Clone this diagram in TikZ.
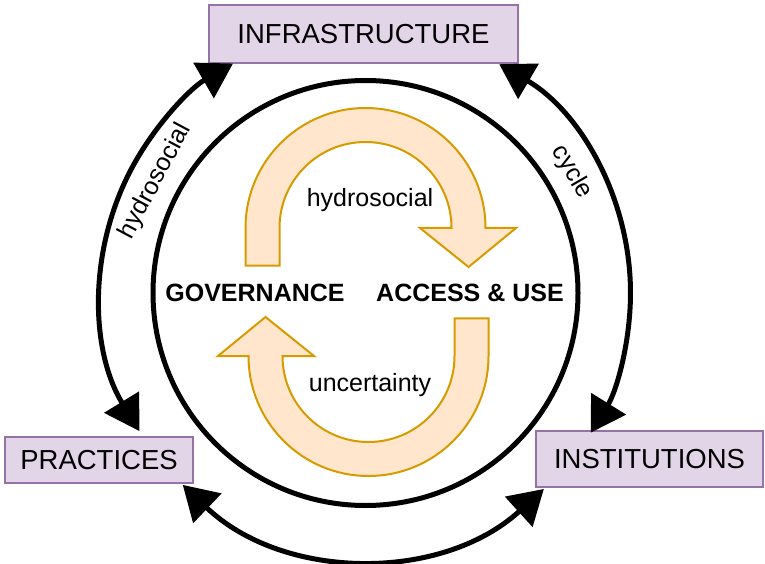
\documentclass[tikz,border=0pt]{standalone}
\usepackage{fontspec}
\setmainfont{Liberation Sans}
\usetikzlibrary{arrows.meta,calc}
\definecolor{orstroke}{HTML}{D79B00}
\definecolor{orfill}{HTML}{FFE6CC}
\definecolor{pstroke}{HTML}{9673A6}
\definecolor{pfill}{HTML}{E1D5E7}
\begin{document}
\begin{tikzpicture}[x=1pt,y=1pt,
  box/.style={draw=pstroke, fill=pfill, line width=2pt, inner sep=0pt,
    font=\fontsize{27.5}{30}\selectfont},
  ring/.style={line width=5pt},
  cyc/.style={line width=5pt,
    {Triangle[length=34pt,width=40pt]}-{Triangle[length=34pt,width=40pt]}},
  bigarrow/.style={draw=orstroke, fill=orfill, line width=2pt, line join=miter},
  boldlbl/.style={font=\bfseries\fontsize{25}{28}\selectfont},
  lbl/.style={font=\fontsize{25}{28}\selectfont}]
\useasboundingbox (0,0) rectangle (765,563);
\coordinate (C) at (365.5,270);

% boxes
\node[box, minimum width=309pt, minimum height=58pt] (infra) at (363.5,529) {INFRASTRUCTURE};
\node[box, minimum width=188pt, minimum height=46pt] (prac) at (99,103) {PRACTICES};
\node[box, minimum width=227pt, minimum height=56pt] (inst) at (649.5,104) {INSTITUTIONS};

% inner ring
\draw[ring] (C) circle[radius=212.5];

% outer arcs
\coordinate (a1s) at ([shift={(211.4:265)}]C);
\coordinate (a2s) at ([shift={(59.7:265)}]C);
\coordinate (a3s) at ([shift={(226.4:265)}]C);
\draw[cyc] (a1s) arc[start angle=211.4, end angle=120, radius=265];
\draw[cyc] (a2s) arc[start angle=59.7, end angle=-31.8, radius=265];
\draw[cyc] (a3s) arc[start angle=226.4, end angle=312.3, radius=265];

% outer labels
\node[lbl, rotate=62] (lh) at ([shift={(152:238)}]C) {hydrosocial};
\node[lbl, rotate=-60] (lc) at ([shift={(30.4:239)}]C) {cycle};

% big orange arrows
\def\orarrow{%
  (245.5,297.3) -- (245.5,335) arc[start angle=180, end angle=0, radius=120]
  -- (516,335) -- (468.5,296) -- (420,335) -- (451.5,335)
  arc[start angle=0, end angle=180, radius=86] -- (279.5,297.3) -- cycle}
\path[bigarrow] \orarrow;
\begin{scope}[rotate around={180:(367,271)}]
\path[bigarrow] \orarrow;
\end{scope}

% inner labels
\node[boldlbl] (gov) at (255,270) {GOVERNANCE};
\node[boldlbl] (acc) at (470,270) {ACCESS \& USE};
\node[lbl] (hyd) at (370,363) {hydrosocial};
\node[lbl] (unc) at (370,178) {uncertainty};
\end{tikzpicture}
\end{document}
